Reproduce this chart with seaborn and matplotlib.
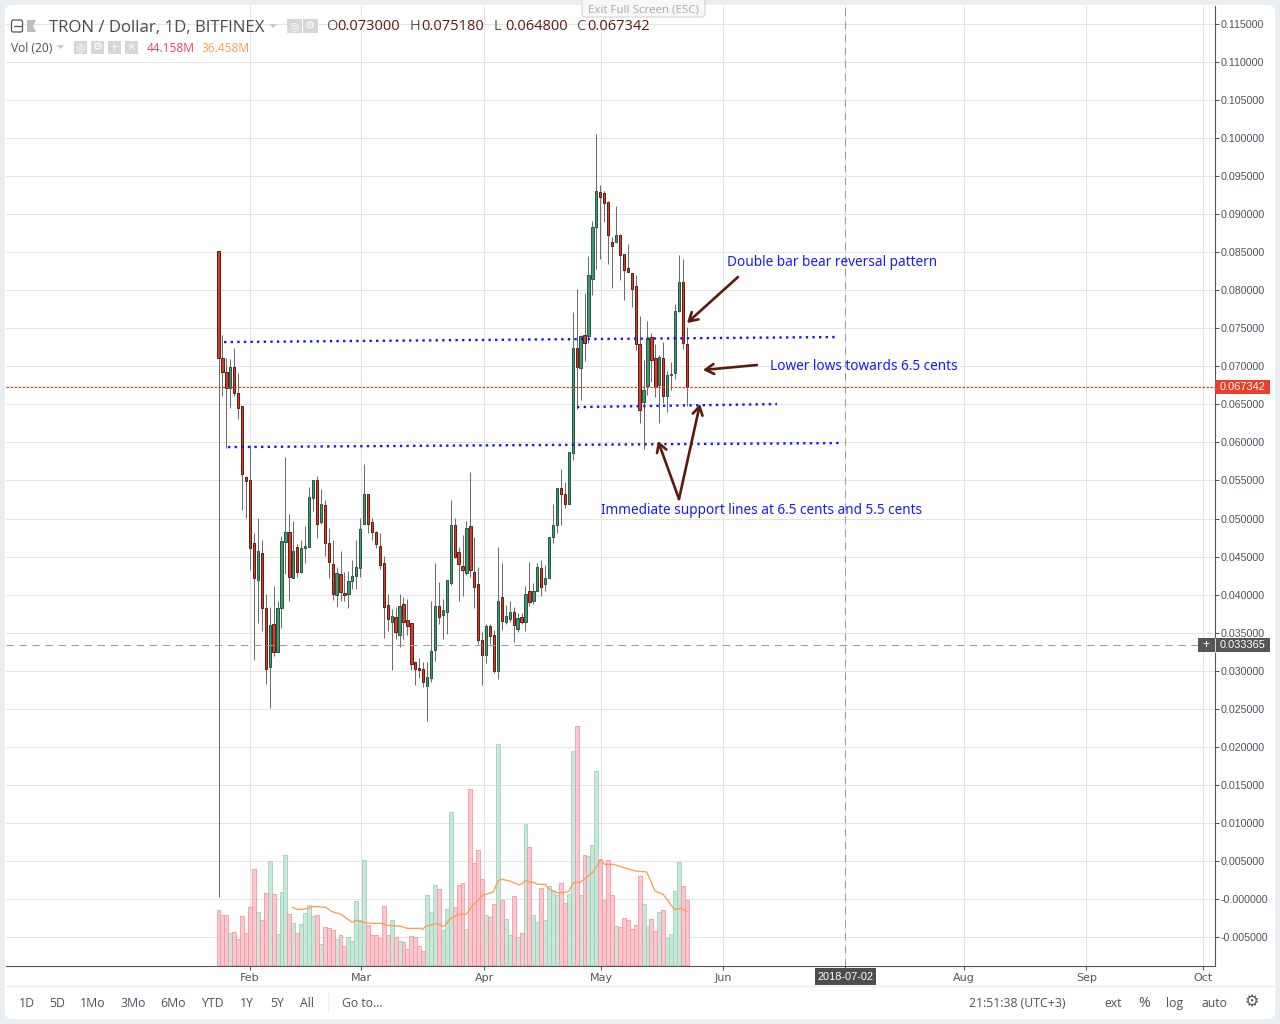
import matplotlib
matplotlib.use('Agg')
import matplotlib.pyplot as plt
import seaborn as sns
import pandas as pd
from matplotlib.patches import Rectangle, FancyBboxPatch, Polygon

opens = [.08510,.07104,.06920,.06710,.06986,.06644,.06482,.05541,.05501,.04673,
         .04187,.04542,.03819,.03044,.03609,.03241,.03819,.04695,.04818,.04213,
         .04621,.04292,.04608,.04621,.05265,.05501,.04958,.05173,.04673,.04397,
         .03990,.04266,.04016,.04003,.04183,.04240,.04354,.04923,.05317,.04949,
         .04818,.04634,.04411,.03859,.03635,.03701,.03465,.03872,.03662,.03622,
         .03110,.03031,.03018,.02803,.02908,.03267,.03846,.03736,.03775,.04157,
         .04910,.04555,.04371,.04288,.04897,.04292,.04135,.03399,.03210,.03583,
         .03465,.03000,.03964,.03644,.03684,.03767,.03543,.03701,.03635,.04043,
         .03911,.04043,.04345,.04135,.04214,.04752,.04910,.05396,.05317,.05186,
         .05856,.07236,.06982,.07407,.07403,.08152,.08835,.09286,.09273,.09155,
         .08629,.08638,.08721,.08471,.08287,.08222,.08051,.07289,.06527,.06737,
         .07381,.07105,.06750,.07105,.06605,.06881,.06908,.07722,.08103,.07300]
highs = [.08510,.07411,.07104,.07091,.07236,.06907,.06482,.05558,.05961,.04805,
         .05002,.04717,.04003,.03832,.04113,.03916,.04770,.05808,.05059,.04967,
         .04665,.04717,.04901,.05409,.05501,.05558,.05387,.05238,.04871,.04717,
         .04358,.04573,.04301,.04310,.04454,.04717,.05002,.05716,.05317,.05002,
         .04835,.04805,.04507,.04008,.03811,.03832,.04008,.03973,.03938,.03622,
         .03127,.03167,.03114,.03114,.03916,.04415,.04165,.03942,.04187,.05243,
         .05006,.04625,.04779,.04962,.05611,.04757,.04358,.03504,.03609,.03609,
         .03535,.04625,.04411,.03859,.03911,.03832,.03754,.03754,.04108,.04424,
         .04148,.04411,.04450,.04384,.04752,.05190,.05396,.05646,.05479,.05869,
         .07709,.08016,.07411,.07959,.08449,.08909,.10052,.09378,.09299,.09168,
         .08703,.09106,.08734,.08471,.08607,.08222,.08195,.07661,.07083,.07595,
         .07433,.07293,.07144,.07315,.06934,.07052,.07819,.08458,.08406,.07518]
lows = [.00030,.06609,.05922,.06456,.06614,.06312,.05111,.05006,.04323,.03140,
        .03631,.03526,.02830,.02514,.03197,.03241,.03565,.04270,.03920,.04213,
        .04235,.04279,.04419,.04621,.05103,.04748,.04923,.04511,.04222,.03929,
        .03841,.03920,.03920,.03828,.04073,.04073,.04235,.04923,.04805,.04717,
        .04608,.04341,.03434,.03526,.03009,.03416,.03316,.03416,.03469,.03009,
        .02816,.02908,.02790,.02339,.02856,.03132,.03613,.03416,.03486,.04130,
        .04485,.03916,.03981,.04262,.04235,.03828,.03346,.02812,.03101,.03346,
        .02974,.02895,.03535,.03613,.03644,.03381,.03513,.03613,.03526,.03854,
        .03881,.04043,.03986,.04051,.04214,.04682,.04814,.04919,.05142,.05186,
        .05769,.06435,.06557,.07074,.07311,.07941,.08274,.08414,.08900,.08344,
        .08033,.08638,.08134,.07871,.08243,.07784,.07214,.06259,.05909,.06619,
        .06798,.06601,.06259,.06513,.06395,.06689,.06829,.07718,.07232,.06480]
closes = [.07104,.06920,.06710,.06986,.06644,.06456,.05580,.05497,.04608,.04213,
          .04568,.03819,.03018,.03596,.03250,.03819,.04700,.04818,.04227,.04568,
          .04292,.04608,.04634,.05278,.05501,.04923,.05186,.04673,.04424,.04003,
          .04279,.04038,.03990,.04174,.04240,.04358,.04857,.05317,.04923,.04827,
          .04660,.04384,.03832,.03675,.03714,.03513,.03846,.03644,.03583,.03092,
          .03027,.03013,.02856,.02913,.03254,.03846,.03710,.03793,.04187,.04910,
          .04498,.04406,.04327,.04870,.04327,.04104,.03399,.03210,.03583,.03460,
          .03000,.03911,.03648,.03714,.03767,.03596,.03688,.03635,.04003,.03898,
          .04043,.04358,.04104,.04214,.04752,.04910,.05396,.05317,.05186,.05869,
          .07236,.06995,.07394,.07311,.08195,.08826,.09299,.09229,.09141,.08721,
          .08585,.08721,.08458,.08261,.08243,.08011,.07289,.06421,.06684,.07368,
          .07078,.06724,.07118,.06605,.06881,.06894,.07722,.08103,.07302,.067342]

# volume in millions
volumes = [37.3,33.9,33.9,21.6,22.3,17.5,33.2,21.6,39.4,65.3,
           35.9,30.5,48.9,70.8,48.2,20.9,49.6,74.8,34.6,28.4,
           21.6,27.8,35.3,40.7,33.2,33.9,14.1,25.7,25.0,23.7,
           17.5,20.2,12.7,18.9,16.2,43.5,30.5,71.4,27.1,20.2,
           20.2,18.2,40.0,20.2,30.5,18.9,16.2,15.5,10.7,19.6,
           18.9,12.7,9.3,47.5,35.9,54.4,51.6,23.7,38.0,104.2,
           39.4,54.4,55.7,24.3,119.9,69.4,78.3,58.5,33.9,32.5,
           41.4,150.6,44.1,31.2,20.2,46.9,18.9,21.6,96.0,80.3,
           33.9,29.1,52.3,30.5,53.7,50.3,47.5,55.7,42.1,48.2,
           145.8,162.9,47.5,74.8,74.4,81.7,132.2,72.1,44.1,71.4,
           47.5,26.4,25.7,31.9,30.5,24.3,27.1,60.5,41.4,26.4,
           31.2,23.0,35.9,37.3,18.2,20.9,50.3,70.1,53.7,44.158]

ma_days = [18.7,20,21.7,24.2,27.2,28.9,31,34,34.8,36.9,38.6,41.6,42.9,46.3,48,51.4,51.9,52.6,
           55.6,56.9,57.7,58.7,61,62.9,64.3,67.3,69.8,71.1,72,74.1,76.2,77,78,79.2,80,81,83,
           84.1,86.4,88.9,90.2,91.9,95.1,97,98.2,100.3,102,105.8,108.8,110.9,113,115.8,117.7,119]
ma_vals = [39.4,38.0,38.0,40.0,39.4,36.4,34.8,29.1,30.5,29.1,28.4,28.4,27.1,26.4,25.0,25.0,24.3,26.4,
           28.4,26.4,27.1,31.2,34.6,34.6,39.8,47.8,49.8,57.6,58.5,57.3,54.8,55.3,57.8,56.4,56.4,55.1,55.1,
           51.6,49.1,50.0,56.2,56.4,63.2,71.7,68.7,68.7,67.3,64.2,63.5,50.5,48.2,38.0,38.7,36.458]

price_ticks = [-.005,0,.005,.01,.015,.02,.025,.03,.035,.04,.045,.05,.055,.06,.065,.07,.075,.08,.085,.09,.095,.1,.105,.11,.115]
price_labels = ['-0.005000','-0.000000'] + ['%.6f' % t for t in price_ticks[2:]]
month_days = [8,36.2,67.5,97.2,128.2,159.2,189.5,220.5,250.2]
month_labels = ['Feb','Mar','Apr','May','Jun','','Aug','Sep','Oct']

last_close = .067342
cross_price = .033365
cross_day = 159.2
resistance_days, resistance_vals = [1.4,157], [.07319,.07385]
support1_days, support1_vals = [91.1,141.9], [.06465,.06504]
support2_days, support2_vals = [2.4,158.5], [.05939,.05992]

df = pd.DataFrame({'day': range(len(opens)), 'open': opens, 'high': highs, 'low': lows,
                   'close': closes, 'volume': volumes})
df['up'] = df['close'] >= df['open']
ma = pd.DataFrame({'day': ma_days, 'vol': ma_vals})

sns.set_theme(style='white')
plt.rcParams['font.family'] = ['Noto Sans', 'DejaVu Sans']

W, H = 1280, 1024
fig = plt.figure(figsize=(12.8, 10.24), dpi=100, facecolor='#e9eef2')

def pane(left, top, right, bottom, z):
    return fig.add_axes([left / W, 1 - bottom / H, (right - left) / W, (bottom - top) / H], zorder=z)

bg = pane(0, 0, W, H, 0)
bg.set_xlim(0, W); bg.set_ylim(H, 0); bg.axis('off')
bg.add_patch(FancyBboxPatch((9, 9), W - 9 - 9, H - 18, boxstyle='round,pad=0,rounding_size=3',
                            fc='white', ec='white', lw=6))

ax = pane(6, 6, 1215, 966, 1)
ax.set_facecolor('none')
ax.set_xlim(-54.0, 253.2)
ax.set_ylim(-.0088, .11735)

# candles
ax.vlines(df['day'], df['low'], df['high'], color='#6e6e6e', lw=0.75, snap=True, zorder=3)
for up, fill, edge in [(True, '#44966e', '#235c42'), (False, '#cf3f2e', '#6e1c12')]:
    part = df[df['up'] == up]
    ax.bar(part['day'], (part['close'] - part['open']).abs(), bottom=part[['open', 'close']].min(axis=1),
           width=0.58, color=fill, edgecolor=edge, linewidth=0.72, zorder=4)

ax.plot(resistance_days, resistance_vals, color='#1414ff', lw=1.7, ls=(0, (1, 1.8)), zorder=5)
ax.plot(support1_days, support1_vals, color='#1414ff', lw=1.7, ls=(0, (1, 1.8)), zorder=5)
ax.plot(support2_days, support2_vals, color='#1414ff', lw=1.7, ls=(0, (1, 1.8)), zorder=5)

ax.axhline(last_close, color='#ff2a0a', lw=0.8, ls=(0, (2.2, 1.4)), zorder=5)
ax.axhline(cross_price, color='#9a9a9a', lw=0.75, ls=(0, (7, 5.5)), zorder=5)
ax.axvline(cross_day, color='#9a9a9a', lw=0.75, ls=(0, (7, 5.5)), zorder=5)

# volume overlay
vol = ax.twinx()
vol.set_zorder(2)
vol.set_facecolor('none')
sns.barplot(data=df[df['up']], x='day', y='volume', native_scale=True, color='#bfe3d2', edgecolor='#9ad3ba',
            saturation=1, linewidth=0.7, ax=vol)
sns.barplot(data=df[~df['up']], x='day', y='volume', native_scale=True, color='#fbc0c5', edgecolor='#f497a4',
            saturation=1, linewidth=0.7, ax=vol)
# bars touch each other in the original
for bar in vol.patches:
    mid = bar.get_x() + bar.get_width() / 2
    bar.set_width(1.0)
    bar.set_x(mid - 0.5)
    bar.set_alpha(0.85)
sns.lineplot(data=ma, x='day', y='vol', color='#ff9d50', lw=0.95, ax=vol)
vol.set_ylim(-0.68, 654.5)
vol.set_xlim(-54.0, 253.2)
vol.set_xlabel('')
vol.set_ylabel('')
vol.set_yticks([])
for s in vol.spines.values():
    s.set_visible(False)
vol.xaxis.set_visible(False)

# axes
ax.set_yticks(price_ticks, price_labels, fontsize=7.7, family='Liberation Sans', color='#4c525e')
ax.yaxis.tick_right()
ax.set_xticks(month_days, month_labels, fontsize=8, family='DejaVu Sans', color='#555555')
ax.tick_params(axis='y', length=3, width=0.75, color='#555555', pad=1.2, right=True, left=False)
ax.tick_params(axis='x', length=3, width=0.75, color='#555555', pad=2, bottom=True)
ax.grid(True, color='#e4e4e4', lw=0.75)
ax.set_axisbelow(True)
ax.spines['top'].set_visible(False)
ax.spines['left'].set_visible(False)
ax.spines['bottom'].set_color('#555555')
ax.spines['right'].set_color('#555555')
ax.spines['bottom'].set_linewidth(0.8)
ax.spines['right'].set_linewidth(0.8)
ax.set_xlim(-54.0, 253.2)

# everything on top, drawn in screen pixels
ov = pane(0, 0, W, H, 3)
ov.set_xlim(0, W); ov.set_ylim(H, 0); ov.axis('off')

def label(x, y, s, size, color='#4c525e', ha='left', **kw):
    ov.text(x, y, s, fontsize=size * 0.72, color=color, ha=ha, va='center', **kw)

def icons(xs, y0, y1, width, glyphs):
    for x, g in zip(xs, glyphs):
        ov.add_patch(Rectangle((x, y0), width, y1 - y0, fc='#d6d6d6', ec='none'))
        label(x + width / 2, (y0 + y1) / 2, g, 11, color='white', ha='center', family='DejaVu Sans')

# full screen hint
ov.add_patch(FancyBboxPatch((582, -6), 123, 23, boxstyle='round,pad=0,rounding_size=3', fc='#f7f7f7', ec='#dcdcdc', lw=1))
label(643.5, 9.5, 'Exit Full Screen (ESC)', 11.5, color='#a9a9a9', ha='center', family='Open Sans')

# header
ov.add_patch(FancyBboxPatch((11.5, 20), 11, 12, boxstyle='round,pad=0,rounding_size=2', fc='white', ec='#555555', lw=0.9))
ov.plot([13.5, 20.5], [26, 26], color='#555555', lw=0.9)
ov.add_patch(Polygon([(27, 20), (36, 20), (33, 26), (36, 32), (27, 32)], fc='#bdbdbd', ec='none'))
label(49, 27.5, 'TRON / Dollar, 1D, BITFINEX', 16.8, color='#4a4a4a', family='Open Sans')
ov.add_patch(Polygon([(269, 24), (277, 24), (273, 28)], fc='#c8c8c8', ec='none'))
icons([287, 303], 19, 33, 14.5, ['\u25ce', '\u2699'])
for x, name, value in [(326, 'O', '0.073000'), (410, 'H', '0.075180'), (494, 'L', '0.064800'), (576, 'C', '0.067342')]:
    label(x, 27, name, 14.6, color='#555555', family='Open Sans')
    label(x + 11, 27, value, 14.6, color='#5c1a0e', family='Open Sans')
label(11, 48, 'Vol (20)', 12, color='#4c525e', family='Open Sans')
ov.add_patch(Polygon([(57, 45), (64, 45), (60.5, 49)], fc='#c8c8c8', ec='none'))
icons([74, 91, 108, 125], 41, 54, 13, ['\u25ce', '\u2699', '+', '\u00d7'])
label(147, 48, '44.158M', 12, color='#f0405a', family='Open Sans')
label(201, 48, '36.458M', 12, color='#ff9d50', family='Open Sans')

# notes and arrows
blue = '#1a1aff'
note = dict(size=13.6, color=blue, family='Noto Sans')
label(727, 262, 'Double bar bear reversal pattern', **note)
label(770, 366, 'Lower lows towards 6.5 cents', **note)
label(601, 511, 'Immediate support lines at 6.5 cents and 5.5 cents', **note)
for x0, y0, x1, y1 in [(738, 277, 687, 323), (757, 365, 703, 370), (679, 499, 700, 404), (679, 499, 658, 441)]:
    ov.annotate('', xy=(x1, y1), xytext=(x0, y0),
                arrowprops=dict(arrowstyle='->,head_length=0.5,head_width=0.3', color='#5c1a0e', lw=1.9,
                                shrinkA=0, shrinkB=0))

# axis tags
ov.add_patch(Rectangle((1215, 380), 55, 14, fc='#e8402a', ec='none'))
label(1243, 387.5, '0.067342', 11, color='white', ha='center', family='Liberation Sans')
ov.add_patch(Rectangle((1198, 638), 72, 14, fc='#555555', ec='none'))
label(1243, 645.5, '0.033365', 11, color='white', ha='center', family='Liberation Sans')
label(1205.5, 645, '+', 12, color='white', ha='center', family='Liberation Sans')
ov.plot([1214.5, 1214.5], [638, 652], color='#e9eef2', lw=0.6)
ov.add_patch(Rectangle((815, 968), 61, 17, fc='#4d4d4d', ec='none'))
label(845.5, 977, '2018-07-02', 11, color='white', ha='center', family='Liberation Sans')

# bottom bar
ov.plot([6, 1274], [985.5, 985.5], color='#eeeeee', lw=1)
ov.plot([327.5, 327.5], [991, 1012], color='#eeeeee', lw=1)
for x, s in [(27, '1D'), (57.5, '5D'), (93, '1Mo'), (133, '3Mo'), (173, '6Mo'), (212, 'YTD'), (247, '1Y'), (277, '5Y'), (307.5, 'All')]:
    label(x, 1003.5, s, 12.3, ha='center', family='Open Sans')
label(342, 1003.5, 'Go to...', 12.3, family='Open Sans')
label(969, 1003.5, '21:51:38 (UTC+3)', 12.3, family='Open Sans')
label(1113, 1003.5, 'ext', 12.3, ha='center', family='Open Sans')
label(1144, 1003.5, '%', 14, ha='center', family='Open Sans')
label(1174.5, 1003.5, 'log', 12.3, ha='center', family='Open Sans')
label(1214, 1003.5, 'auto', 12.3, ha='center', family='Open Sans')
label(1252, 1002, '\u2699', 16, ha='center', family='DejaVu Sans')

fig.savefig('out.png', dpi=100, facecolor=fig.get_facecolor())
